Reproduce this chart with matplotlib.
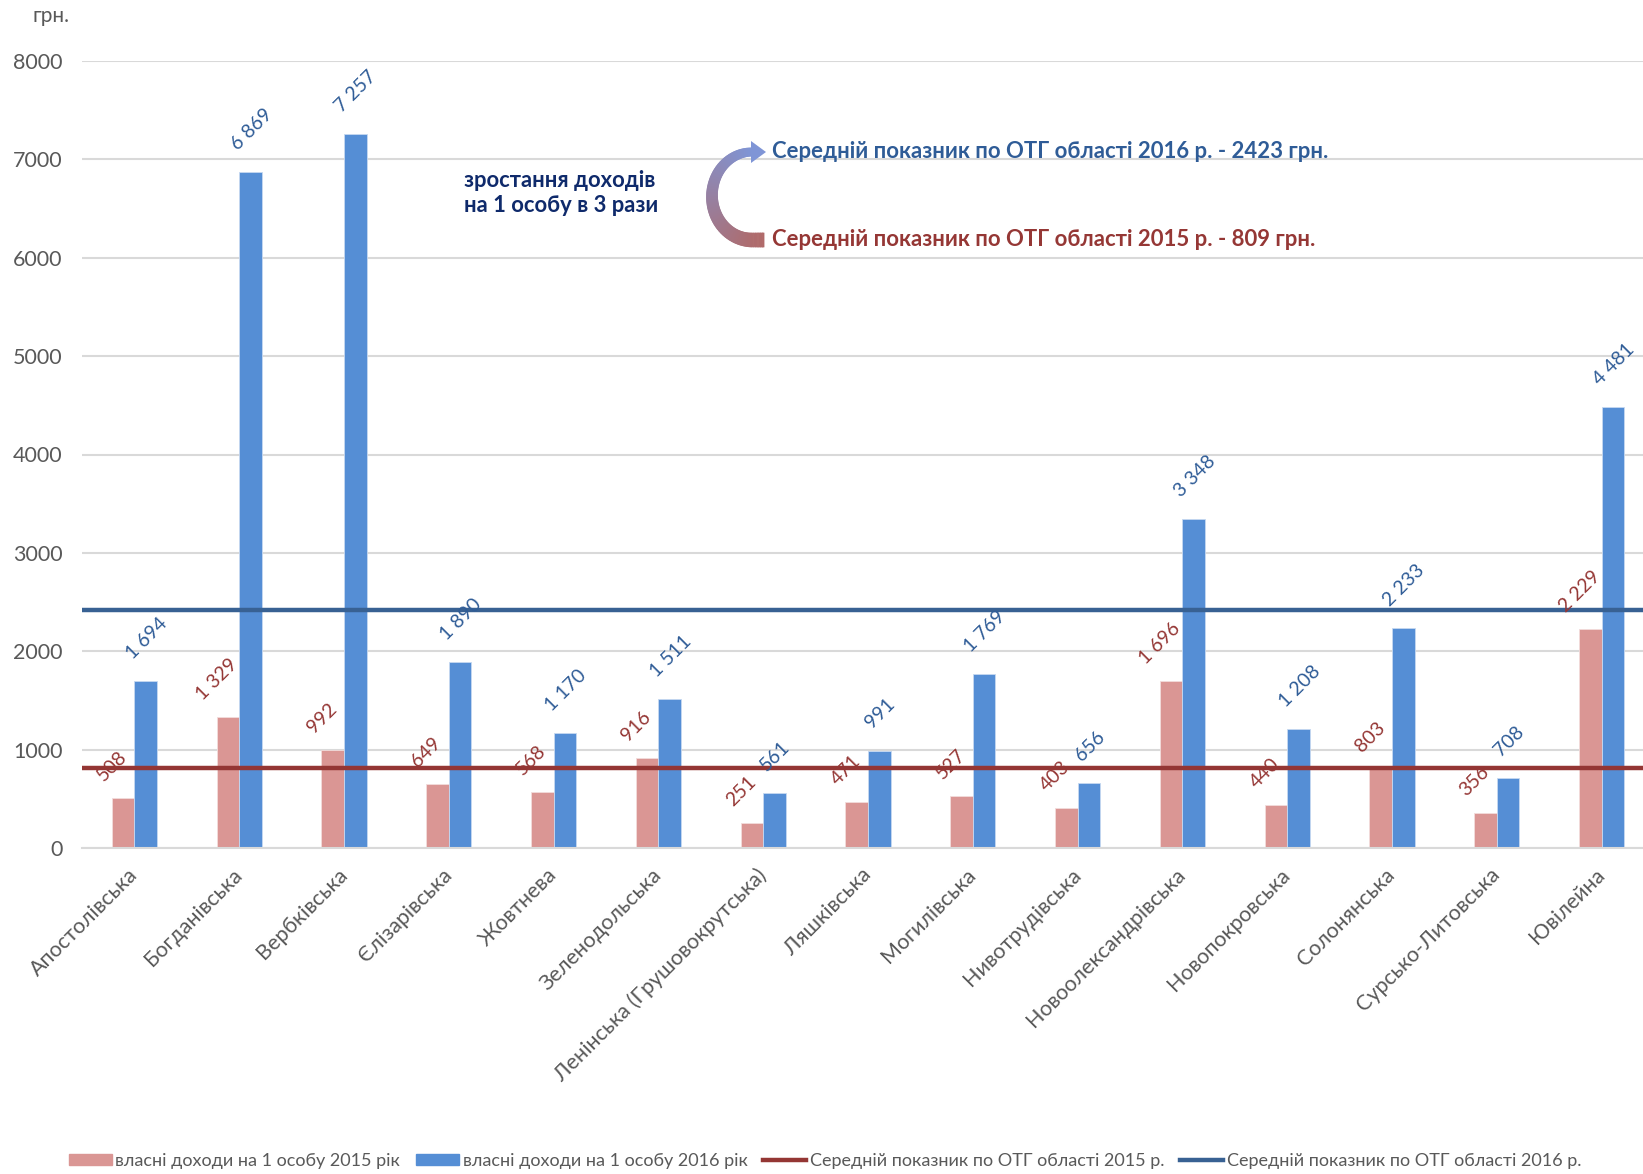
import numpy as np
import matplotlib
matplotlib.use("Agg")
import matplotlib.pyplot as plt
from matplotlib.collections import PolyCollection
from matplotlib.patches import Polygon, Patch
from matplotlib.lines import Line2D
from matplotlib.transforms import ScaledTranslation

plt.rcParams['font.family'] = ['Lato', 'DejaVu Sans']

# Data
communities = ['Апостолівська', 'Богданівська', 'Вербківська', 'Єлізарівська', 'Жовтнева',
               'Зеленодольська', 'Ленінська (Грушовокрутська)', 'Ляшківська', 'Могилівська',
               'Нивотрудівська', 'Новоолександрівська', 'Новопокровська', 'Солонянська',
               'Сурсько-Литовська', 'Ювілейна']
income_2015 = [508, 1329, 992, 649, 568, 916, 251, 471, 527, 403, 1696, 440, 803, 356, 2229]
income_2016 = [1694, 6869, 7257, 1890, 1170, 1511, 561, 991, 1769, 656, 3348, 1208, 2233, 708, 4481]
avg_2015 = 809
avg_2016 = 2423
yticks = [0, 1000, 2000, 3000, 4000, 5000, 6000, 7000, 8000]

legend_labels = ['власні доходи на 1 особу 2015 рік', 'власні доходи на 1 особу 2016 рік',
                 'Середній показник по ОТГ області 2015 р.', 'Середній показник по ОТГ області 2016 р.']
note_text = 'зростання доходів\nна 1 особу в 3 рази'
avg_2016_text = 'Середній показник по ОТГ області 2016 р. - 2423 грн.'
avg_2015_text = 'Середній показник по ОТГ області 2015 р. - 809 грн.'

# colours
pink = '#da9694'
blue = '#558ed5'
red_line = '#943634'
blue_line = '#386193'
red_txt = '#953735'
blue_txt = '#2f5c97'
gray = '#595959'

W, H = 1643, 1174
fig = plt.figure(figsize=(W / 100, H / 100), dpi=100, facecolor='w')
ax = fig.add_axes([82 / W, 1 - 848 / H, (1654 - 82) / W, (848 - 61) / H])

x = np.arange(len(communities))
bw = 0.215
ax.bar(x - bw / 2, income_2015, bw, color=pink, edgecolor='#f2dcdb', linewidth=0.6, zorder=2)
ax.bar(x + bw / 2, income_2016, bw, color=blue, edgecolor='#c6d9f1', linewidth=0.6, zorder=2)

ax.axhline(avg_2015, color=red_line, lw=3.2, zorder=3)
ax.axhline(avg_2016, color=blue_line, lw=3.2, zorder=3)

def fmt(v):
    return f'{v:,}'.replace(',', ' ')

for xi, v in zip(x, income_2015):
    ax.annotate(fmt(v), (xi - bw / 2, v), xytext=(-11, 14), textcoords='offset pixels',
                rotation=45, ha='center', va='bottom', color=red_txt, fontsize=14, zorder=4)
for xi, v in zip(x, income_2016):
    ax.annotate(fmt(v), (xi + bw / 2, v), xytext=(1, 19), textcoords='offset pixels',
                rotation=45, ha='center', va='bottom', color=blue_txt, fontsize=14, zorder=4)

ax.set_xlim(-0.5, len(communities) - 0.5)
ax.set_ylim(0, 8000)
ax.set_yticks(yticks)
ax.set_xticks(x)
ax.set_xticklabels(communities, rotation=45, ha='right', rotation_mode='anchor')
ax.tick_params(axis='y', length=0, pad=14, labelsize=15.5, labelcolor=gray)
ax.tick_params(axis='x', length=0, pad=12, labelsize=15.5, labelcolor=gray)
shift = ScaledTranslation(-7 / 100, 0, fig.dpi_scale_trans)
for lbl in ax.get_xticklabels():
    lbl.set_transform(lbl.get_transform() + shift)
ax.grid(axis='y', color='#d9d9d9', lw=1.5, zorder=0)
ax.set_axisbelow(True)
for s in ['top', 'left', 'right']:
    ax.spines[s].set_visible(False)
ax.spines['bottom'].set_color('#d9d9d9')
ax.spines['bottom'].set_linewidth(1.5)

fig.text(32 / W, 1 - 16 / H, 'грн.', color=gray, fontsize=15, va='center')

# annotations
fig.text(464 / W, 1 - 193 / H, note_text, color='#0f2a6b', fontsize=15.8, fontweight='bold',
         va='center', ha='left', linespacing=1.25)
fig.text(772 / W, 1 - 152 / H, avg_2016_text, color=blue_txt, fontsize=15.9, fontweight='bold', va='center')
fig.text(772 / W, 1 - 239 / H, avg_2015_text, color=red_txt, fontsize=15.9, fontweight='bold', va='center')

# curved gradient arrow, built in figure pixels
def px(xp, yp):
    return np.column_stack([np.asarray(xp) / W, 1 - np.asarray(yp) / H])

cx, cy, rx, ry = 752, 196, 40, 44
t = np.linspace(np.pi / 2, 3 * np.pi / 2, 160)
xs = np.concatenate([np.linspace(764, cx, 8)[:-1], cx + rx * np.cos(t)])
ys = np.concatenate([np.full(7, cy + ry), cy + ry * np.sin(t)])
n = len(xs)
frac = np.linspace(0, 1, n)
half = (14 - 6 * frac) / 2
dx = np.gradient(xs)
dy = np.gradient(ys)
norm = np.hypot(dx, dy)
nx, ny = -dy / norm, dx / norm
ox, oy = xs + nx * half, ys + ny * half
ix, iy = xs - nx * half, ys - ny * half
c0 = np.array(matplotlib.colors.to_rgb('#b06a69'))
c1 = np.array(matplotlib.colors.to_rgb('#7f95d6'))
quads, cols = [], []
for i in range(n - 1):
    quads.append(px([ox[i], ox[i + 1], ix[i + 1], ix[i]], [oy[i], oy[i + 1], iy[i + 1], iy[i]]))
    f = (frac[i] + frac[i + 1]) / 2
    cols.append(tuple(c0 * (1 - f) + c1 * f))
pc = PolyCollection(quads, facecolors=cols, edgecolors=cols, linewidths=0.6, transform=fig.transFigure)
fig.add_artist(pc)
head = Polygon(px([cx - 1, cx - 1, 766], [cy - ry - 11, cy - ry + 11, cy - ry]), closed=True,
               transform=fig.transFigure, facecolor='#7f95d6', edgecolor='none')
fig.add_artist(head)

# legend
handles = [Patch(facecolor=pink, edgecolor=pink), Patch(facecolor=blue, edgecolor=blue),
           Line2D([], [], color=red_line, lw=3.2), Line2D([], [], color=blue_line, lw=3.2)]
fig.legend(handles, legend_labels, loc='center', bbox_to_anchor=(0.502, 1 - 1161 / H), ncol=4,
           frameon=False, fontsize=13, labelcolor=gray, handlelength=2.4, handletextpad=0.2,
           columnspacing=0.85, handleheight=0.6)

fig.savefig('out.png', dpi=100)
